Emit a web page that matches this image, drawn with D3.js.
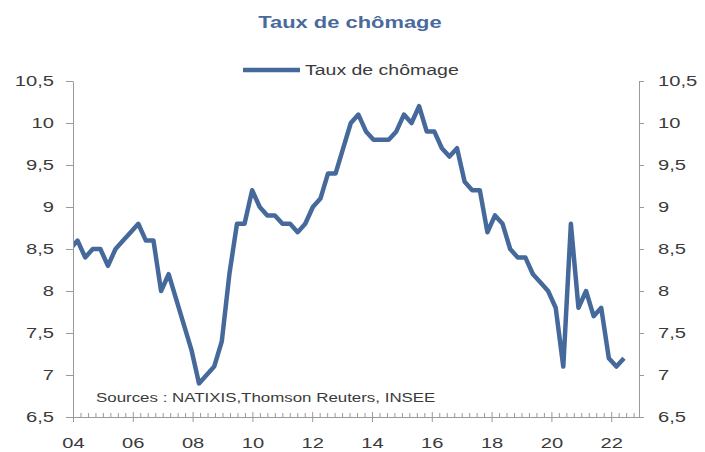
<!DOCTYPE html>
<html>
<head>
<meta charset="utf-8">
<script src="https://cdn.jsdelivr.net/npm/d3@7"></script>
<style>
   body { margin: 0; background: #fff; }
   svg text { font-family: "Liberation Sans", Arial, sans-serif; fill: #3b3b3b; }
</style>
</head>
<body>
<svg id="chart" width="705" height="452"></svg>
<script>
// DATA: French unemployment rate, quarterly, 2004 Q1 -> 2022 Q2
var chartTitle = 'Taux de chômage';
var seriesName = 'Taux de chômage';
var sourceNote = 'Sources : NATIXIS,Thomson Reuters, INSEE';
var firstYear = 2004;
var rateValues = [
   8.5, 8.6, 8.4, 8.5,   8.5, 8.3, 8.5, 8.6,   8.7, 8.8, 8.6, 8.6,   8.0, 8.2, 7.9, 7.6,
   7.3, 6.9, 7.0, 7.1,   7.4, 8.2, 8.8, 8.8,   9.2, 9.0, 8.9, 8.9,   8.8, 8.8, 8.7, 8.8,
   9.0, 9.1, 9.4, 9.4,   9.7, 10.0, 10.1, 9.9, 9.8, 9.8, 9.8, 9.9,   10.1, 10.0, 10.2, 9.9,
   9.9, 9.7, 9.6, 9.7,   9.3, 9.2, 9.2, 8.7,   8.9, 8.8, 8.5, 8.4,   8.4, 8.2, 8.1, 8.0,
   7.8, 7.1, 8.8, 7.8,   8.0, 7.7, 7.8, 7.2,   7.1, 7.2
];
var yTickValues = [6.5, 7, 7.5, 8, 8.5, 9, 9.5, 10, 10.5];
var yearTickValues = [2004, 2006, 2008, 2010, 2012, 2014, 2016, 2018, 2020, 2022];

(function drawChart() {
   var svg = d3.select('#chart');
   var lineColor = '#46699c';
   var axisColor = '#9a9a9a';
   var textStretch = 1.3; // the original lettering is drawn wide

   var plot = {left: 73, right: 639, top: 81, bottom: 417};

   // quarter labels, one per value
   var quarters = rateValues.map(function (v, i) {
      return (firstYear + Math.floor(i / 4)) + 'T' + (i % 4 + 1);
   });

   var yScale = d3.scaleLinear().domain([6.5, 10.5]).range([plot.bottom, plot.top]);
   var timeScale = d3.scaleLinear().domain([2004, 2022.93]).range([plot.left, plot.right]);
   var quarterScale = d3.scalePoint().domain(quarters).range([70, 624]);

   function stretch(sel, factor) {
      var k = factor || textStretch;
      sel.each(function () {
         var t = d3.select(this);
         var x = +t.attr('x') || 0;
         t.attr('x', x / k).attr('transform', 'scale(' + k + ',1)');
      });
   }

   var yFormat = function (v) {
      return String(v).replace('.', ',');
   };

   // left axis
   var leftAxis = svg.append('g')
      .attr('transform', 'translate(' + plot.left + ',0)')
      .call(d3.axisLeft(yScale).tickValues(yTickValues).tickSize(7).tickSizeOuter(0).tickPadding(12).tickFormat(yFormat));

   // right axis
   var rightAxis = svg.append('g')
      .attr('transform', 'translate(' + plot.right + ',0)')
      .call(d3.axisRight(yScale).tickValues(yTickValues).tickSize(5).tickSizeOuter(0).tickPadding(14).tickFormat(yFormat));

   // bottom axis: quarterly minor ticks pointing up, bi-annual major ticks crossing the line
   var minorValues = d3.range(2004, 2022.9, 0.25).filter(function (v) {
      return yearTickValues.indexOf(v) < 0;
   });

   svg.append('g')
      .attr('class', 'minor')
      .attr('transform', 'translate(0,' + plot.bottom + ')')
      .call(d3.axisBottom(timeScale).tickValues(minorValues).tickSize(-4).tickSizeOuter(0).tickFormat(''));

   var bottomAxis = svg.append('g')
      .attr('transform', 'translate(0,' + plot.bottom + ')')
      .call(d3.axisBottom(timeScale).tickValues(yearTickValues).tickSize(5).tickSizeOuter(0).tickPadding(15)
         .tickFormat(function (y) { return d3.format('02d')(y % 100); }));

   bottomAxis.selectAll('.tick').append('line')
      .attr('y2', -5);

   svg.selectAll('.domain').attr('stroke', axisColor);
   svg.selectAll('.tick line').attr('stroke', axisColor);

   [leftAxis, rightAxis, bottomAxis].forEach(function (ax) {
      ax.selectAll('text')
         .style('font-size', '15.5px')
         .attr('fill', '#363636')
         .call(stretch);
   });

   // clip series to the plot area
   svg.append('clipPath').attr('id', 'plotClip')
      .append('rect')
      .attr('x', plot.left + 1).attr('y', 0)
      .attr('width', plot.right - plot.left).attr('height', 452);

   var line = d3.line()
      .x(function (d, i) { return quarterScale(quarters[i]); })
      .y(function (d) { return yScale(d); });

   svg.append('path')
      .datum(rateValues)
      .attr('clip-path', 'url(#plotClip)')
      .attr('fill', 'none')
      .attr('stroke', lineColor)
      .attr('stroke-width', 4.5)
      .attr('stroke-linejoin', 'round')
      .attr('d', line);

   // title
   svg.append('text')
      .attr('x', 350)
      .attr('y', 28)
      .attr('text-anchor', 'middle')
      .style('font-size', '16px')
      .style('font-weight', 'bold')
      .style('fill', '#4a6a9c')
      .text(chartTitle)
      .call(stretch, 1.37);

   // legend
   svg.append('line')
      .attr('x1', 243).attr('x2', 300)
      .attr('y1', 70).attr('y2', 70)
      .attr('stroke', lineColor)
      .attr('stroke-width', 4.5);

   svg.append('text')
      .attr('x', 305)
      .attr('y', 75.5)
      .style('font-size', '15px')
      .text(seriesName)
      .call(stretch);

   // source note
   svg.append('text')
      .attr('x', 96)
      .attr('y', 402)
      .style('font-size', '13px')
      .text(sourceNote)
      .call(stretch);
})();
</script>
</body>
</html>
